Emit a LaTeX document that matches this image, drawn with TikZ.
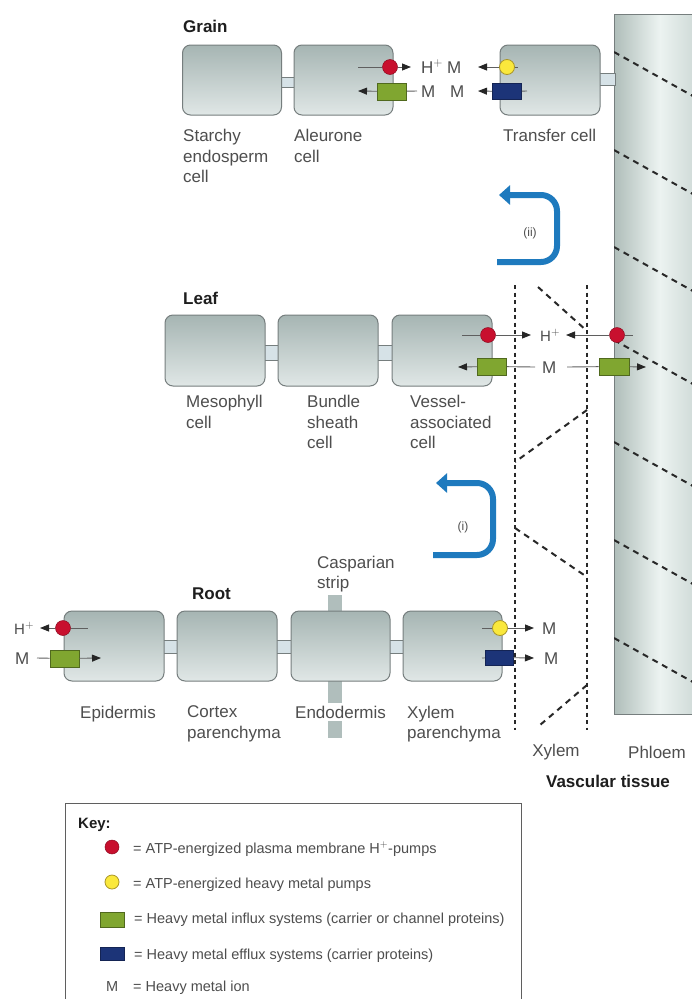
\documentclass[tikz,border=0pt]{standalone}
\usepackage{fontspec}
\setmainfont{Liberation Sans}
\usetikzlibrary{arrows.meta}
\definecolor{cellTop}{RGB}{166,181,179}
\definecolor{cellBot}{RGB}{224,231,230}
\definecolor{cellEdge}{RGB}{118,126,126}
\definecolor{plasmo}{RGB}{214,226,231}
\definecolor{phlL}{RGB}{176,190,186}
\definecolor{phlM}{RGB}{236,243,241}
\definecolor{phlR}{RGB}{200,212,209}
\definecolor{lblGray}{RGB}{78,78,78}
\definecolor{titleCol}{RGB}{30,30,30}
\definecolor{lineGray}{RGB}{95,95,95}
\definecolor{pumpRed}{RGB}{200,16,46}
\definecolor{pumpYel}{RGB}{250,232,60}
\definecolor{pumpYelEdge}{RGB}{170,150,40}
\definecolor{inGreen}{RGB}{128,166,48}
\definecolor{inGreenEdge}{RGB}{80,105,30}
\definecolor{effBlue}{RGB}{28,52,120}
\definecolor{flowBlue}{RGB}{30,122,190}
\definecolor{strip}{RGB}{176,190,188}
\definecolor{dashCol}{RGB}{40,40,40}
\tikzset{
  cellbox/.style={rectangle, rounded corners=8pt, draw=cellEdge, line width=1pt,
    top color=cellTop, bottom color=cellBot, minimum width=99pt, minimum height=70pt, inner sep=0pt},
  pd/.style={fill=plasmo, draw=cellEdge, line width=0.8pt},
  lbl/.style={anchor=north west, inner sep=0pt, align=left, text=lblGray,
    font=\fontsize{17}{20.5}\selectfont},
  ttl/.style={anchor=base west, inner sep=0pt, text=titleCol, font=\fontsize{17}{20}\selectfont\bfseries},
  ion/.style={anchor=base west, inner sep=0pt, text=lblGray, font=\fontsize{17}{20}\selectfont},
  keytxt/.style={anchor=base west, inner sep=0pt, text=lblGray, font=\fontsize{14.5}{18}\selectfont},
  redpump/.style={circle, fill=pumpRed, draw=pumpRed!70!black, line width=0.5pt, minimum size=15pt, inner sep=0pt},
  yelpump/.style={circle, fill=pumpYel, draw=pumpYelEdge, line width=0.8pt, minimum size=15pt, inner sep=0pt},
  influx/.style={rectangle, fill=inGreen, draw=inGreenEdge, line width=0.6pt, minimum width=29pt, minimum height=17pt, inner sep=0pt},
  efflux/.style={rectangle, fill=effBlue, draw=effBlue!70!black, line width=0.6pt, minimum width=29pt, minimum height=16pt, inner sep=0pt},
  flow/.style={draw=lineGray, line width=0.9pt, -{Triangle[length=9pt,width=7pt,color=black!85]}},
  plainline/.style={draw=lineGray, line width=0.9pt},
  bigflow/.style={draw=flowBlue, line width=6pt, rounded corners=16pt, -{Triangle[length=11pt,width=19pt]}},
  xyl/.style={draw=dashCol, line width=2pt, dash pattern=on 4pt off 3.5pt},
  spiral/.style={draw=dashCol, line width=2pt, dash pattern=on 6pt off 5pt},
}
\begin{document}
\begin{tikzpicture}[x=1pt,y=-1pt]
\useasboundingbox (0,0) rectangle (692,999);
\fill[white] (0,0) rectangle (692,999);

% ---------------- phloem ----------------
\node[rectangle, draw=cellEdge, line width=1pt, left color=phlL, right color=phlR, middle color=phlM,
  minimum width=90pt, minimum height=700pt, inner sep=0pt, anchor=north west] (phloem) at (614,14) {};
\begin{scope}
  \clip (614,14) rectangle (692,714);
  \foreach \yy in {52,150,247,340,442,540,638}{
    \draw[spiral] (614,\yy) -- (700,\yy+48);
  }
\end{scope}

% ---------------- xylem ----------------
\coordinate (xlt) at (515,285); \coordinate (xlb) at (515,730);
\coordinate (xrt) at (587,285); \coordinate (xrb) at (587,730);
\draw[xyl] (xlt) -- (xlb);
\draw[xyl] (xrt) -- (xrb);
\coordinate (z1) at (538,287); \coordinate (z2) at (587,331);
\coordinate (z3) at (587,410); \coordinate (z4) at (515,462);
\coordinate (z5) at (515,528); \coordinate (z6) at (587,577);
\coordinate (z7) at (587,685); \coordinate (z8) at (540,725);
\draw[spiral] (z1) -- (z2);
\draw[spiral] (z3) -- (z4);
\draw[spiral] (z5) -- (z6);
\draw[spiral] (z7) -- (z8);

% ---------------- grain ----------------
\node[ttl] (grain) at (183,32) {Grain};
\fill[pd] (279,77) rectangle (296,87);
\fill[pd] (598,73) rectangle (615,85);
\node[cellbox] (starchy) at (232,80) {};
\node[cellbox] (aleurone) at (343.5,80) {};
\node[cellbox, minimum width=100pt] (transfer) at (550,80) {};
\node[lbl] (lstarchy) at (183,129) {Starchy\\endosperm\\cell};
\node[lbl] (laleurone) at (294,129) {Aleurone\\cell};
\node[lbl] (ltransfer) at (503,129) {Transfer cell};

\coordinate (ga1) at (358,67); \coordinate (ga2) at (411,67);
\coordinate (ga3) at (358,91); \coordinate (ga4) at (417,91);
\coordinate (gt1) at (518,67); \coordinate (gt2) at (478,67);
\coordinate (gt3) at (527,91); \coordinate (gt4) at (478,91);
\node[redpump] (redA) at (390,67) {};
\node[influx] (greenA) at (392,91.5) {};
\node[yelpump] (yelT) at (507,67) {};
\node[efflux] (blueT) at (507,91.5) {};
\draw[plainline] (ga1) -- (redA);
\draw[flow] (redA) -- (ga2);
\draw[flow] (greenA) -- (ga3);
\draw[plainline] (greenA) -- (ga4);
\draw[plainline] (yelT) -- (gt1);
\draw[flow] (yelT) -- (gt2);
\draw[plainline] (blueT) -- (gt3);
\draw[flow] (blueT) -- (gt4);
\node[ion] (gH) at (421,73) {H$^+$};
\node[ion] (gM1) at (447,73) {M};
\node[ion] (gM2) at (421,97) {M};
\node[ion] (gM3) at (450,97) {M};

% arrow (ii)
\coordinate (b1) at (497,262); \coordinate (b2) at (557,262);
\coordinate (b3) at (557,195); \coordinate (b4) at (499,195);
\draw[bigflow] (b1) -- (b2) -- (b3) -- (b4);
\node[font=\fontsize{12}{14}\selectfont, text=lblGray] (ii) at (530,233) {(ii)};

% ---------------- leaf ----------------
\node[ttl] (leaf) at (183,304) {Leaf};
\fill[pd] (263,345) rectangle (280,360);
\fill[pd] (376,345) rectangle (394,360);
\node[cellbox, minimum width=100pt, minimum height=71pt] (meso) at (215,350.5) {};
\node[cellbox, minimum width=100pt, minimum height=71pt] (bundle) at (328,350.5) {};
\node[cellbox, minimum width=100pt, minimum height=71pt] (vessel) at (442,350.5) {};
\node[lbl] (lmeso) at (186,395) {Mesophyll\\cell};
\node[lbl] (lbundle) at (307,395) {Bundle\\sheath\\cell};
\node[lbl] (lvessel) at (410,395) {Vessel-\\associated\\cell};

\coordinate (l1) at (462,335); \coordinate (l2) at (531,335);
\coordinate (l3) at (633,335); \coordinate (l4) at (566,335);
\coordinate (l5) at (458,367); \coordinate (l6) at (535,367);
\coordinate (l7) at (567,367); \coordinate (l8) at (646,367);
\node[redpump] (redL) at (488,335) {};
\node[influx] (greenL) at (492,366.5) {};
\node[redpump] (redP) at (617,335) {};
\node[influx, minimum width=30pt] (greenP) at (614,366.5) {};
\draw[plainline] (l1) -- (redL);
\draw[flow] (redL) -- (l2);
\draw[plainline] (redP) -- (l3);
\draw[flow] (redP) -- (l4);
\draw[flow] (greenL) -- (l5);
\draw[plainline] (greenL) -- (l6);
\draw[plainline] (l7) -- (greenP);
\draw[flow] (greenP) -- (l8);
\node[ion, font=\fontsize{15}{18}\selectfont] (lH) at (540,341) {H$^+$};
\node[ion] (lM) at (542,373) {M};

% arrow (i)
\coordinate (a1) at (433,555); \coordinate (a2) at (493,555);
\coordinate (a3) at (493,483); \coordinate (a4) at (436,483);
\draw[bigflow] (a1) -- (a2) -- (a3) -- (a4);
\node[font=\fontsize{12}{14}\selectfont, text=lblGray] (i) at (463,527) {(i)};

% ---------------- root ----------------
\node[ttl] (root) at (192,599) {Root};
\fill[strip] (328,595) rectangle (342,738);
\fill[pd] (161,640) rectangle (179,653);
\fill[pd] (275,640) rectangle (294,653);
\fill[pd] (388,640) rectangle (405,653);
\node[cellbox, minimum width=100pt] (epid) at (114,646) {};
\node[cellbox, minimum width=100pt] (cortex) at (227,646) {};
\node[cellbox] (endo) at (340.5,646) {};
\node[cellbox] (xpar) at (452.5,646) {};
\node[lbl] (lcasp) at (317,555.5) {Casparian\\strip};
\node[lbl] (lepid) at (80,705.5) {Epidermis};
\node[lbl] (lcortex) at (187,705.5) {Cortex\\parenchyma};
\node[lbl, fill=white, inner ysep=3pt, inner xsep=1pt] (lendo) at (294,702.5) {Endodermis};
\node[lbl] (lxpar) at (407,705.5) {Xylem\\parenchyma};

\coordinate (r1) at (88,628); \coordinate (r2) at (40,628);
\coordinate (r3) at (37,658); \coordinate (r4) at (101,658);
\coordinate (r5) at (482,628); \coordinate (r6) at (534,628);
\coordinate (r7) at (482,658); \coordinate (r8) at (534,658);
\node[redpump] (redE) at (63,628) {};
\node[influx] (greenE) at (64.5,658.5) {};
\node[yelpump] (yelX) at (500,628) {};
\node[efflux, minimum width=28pt, minimum height=15pt] (blueX) at (499,657.5) {};
\draw[plainline] (redE) -- (r1);
\draw[flow] (redE) -- (r2);
\draw[plainline] (r3) -- (greenE);
\draw[flow] (greenE) -- (r4);
\draw[plainline] (r5) -- (yelX);
\draw[flow] (yelX) -- (r6);
\draw[plainline] (r7) -- (blueX);
\draw[flow] (blueX) -- (r8);
\node[ion, font=\fontsize{15}{18}\selectfont] (rH) at (14,634) {H$^+$};
\node[ion] (rM) at (15,664) {M};
\node[ion] (xM1) at (542,634) {M};
\node[ion] (xM2) at (544,664) {M};

% vascular labels
\node[text=lblGray, font=\fontsize{17}{20}\selectfont, inner sep=0pt] (lxylem) at (556,752) {Xylem};
\node[text=lblGray, font=\fontsize{17}{20}\selectfont, inner sep=0pt] (lphloem) at (657,752) {Phloem};
\node[text=titleCol, font=\fontsize{17}{20}\selectfont\bfseries, inner sep=0pt] (lvasc) at (608,781) {Vascular tissue};

% ---------------- key ----------------
\draw[draw=lineGray, line width=1pt] (65,1010) -- (65,803) -- (521,803) -- (521,1010);
\node[ttl, font=\fontsize{15}{18}\selectfont\bfseries] (keyt) at (78,828) {Key:};
\node[redpump, minimum size=14pt] (kred) at (112,847) {};
\node[yelpump, minimum size=14pt] (kyel) at (112,882) {};
\node[influx, minimum width=24pt, minimum height=15pt] (kgreen) at (112,919.5) {};
\node[efflux, minimum width=24pt, minimum height=13pt] (kblue) at (112,953.5) {};
\node[keytxt] (k1) at (133,853) {= ATP-energized plasma membrane H$^+$-pumps};
\node[keytxt] (k2) at (133,888) {= ATP-energized heavy metal pumps};
\node[keytxt] (k3) at (134,923) {= Heavy metal influx systems (carrier or channel proteins)};
\node[keytxt] (k4) at (134,959) {= Heavy metal efflux systems (carrier proteins)};
\node[keytxt] (kM) at (106,991) {M};
\node[keytxt] (k5) at (133,991) {= Heavy metal ion};
\end{tikzpicture}
\end{document}
